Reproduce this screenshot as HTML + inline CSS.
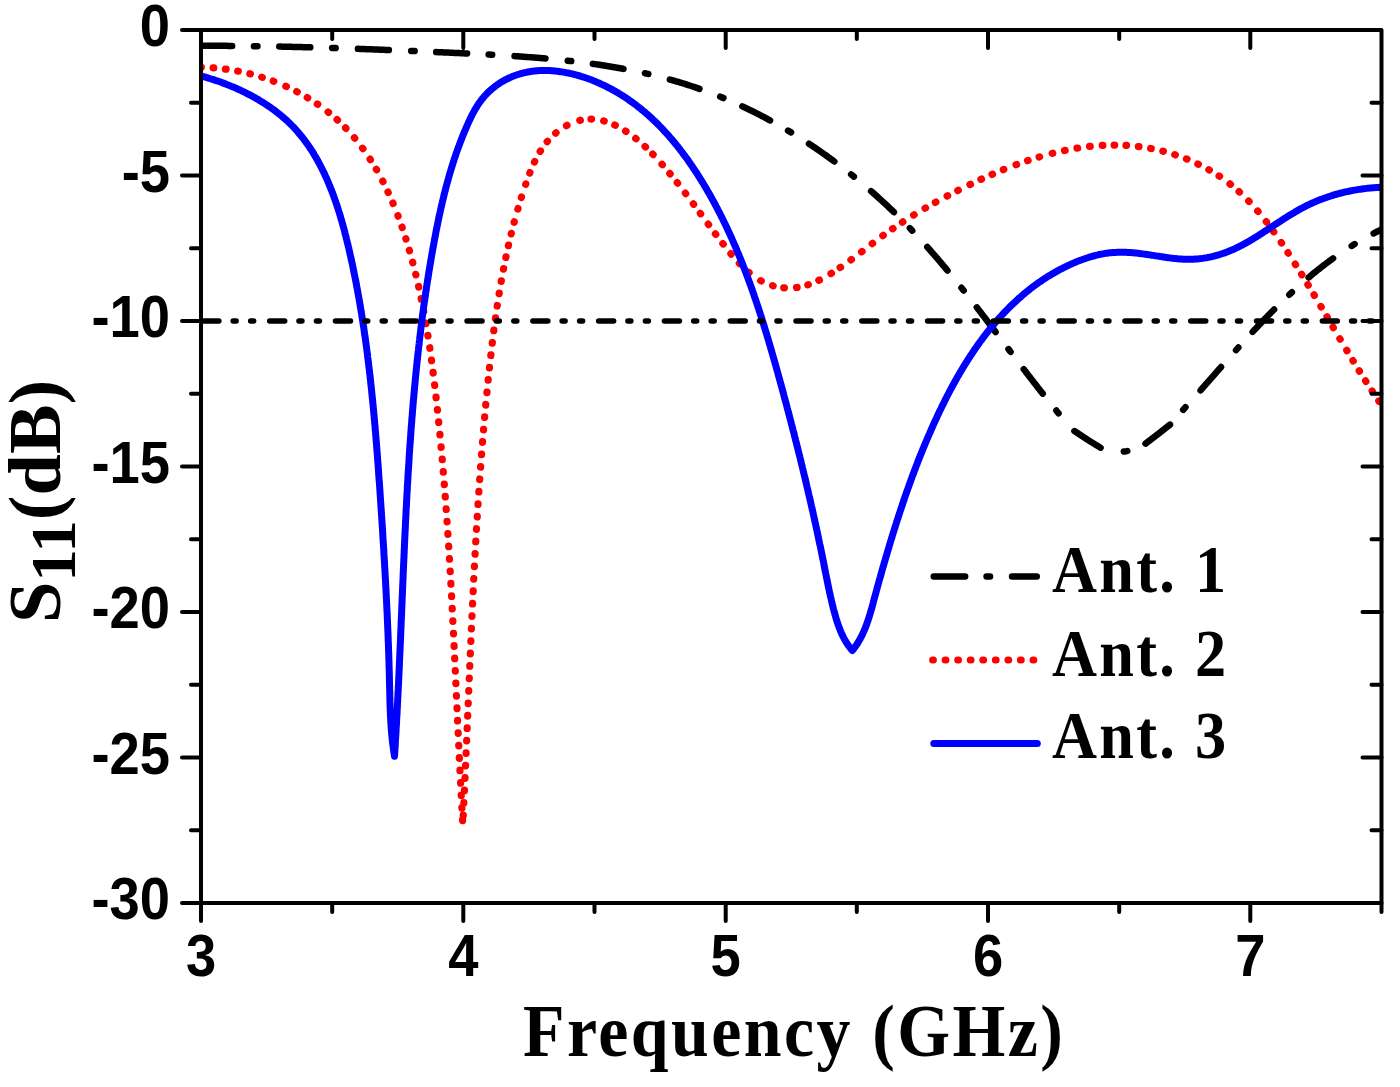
<!DOCTYPE html>
<html><head><meta charset="utf-8"><style>
html,body{margin:0;padding:0;background:#fff;overflow:hidden;}
svg{display:block;filter:blur(0.45px);}
</style></head><body>
<svg width="1400" height="1087" viewBox="0 0 1400 1087">
<g font-family="Liberation Sans, sans-serif" font-weight="bold" font-size="58.5"><text transform="translate(170,46.0) scale(0.93,1)" text-anchor="end">0</text><text transform="translate(170,191.5) scale(0.93,1)" text-anchor="end">-5</text><text transform="translate(170,337.0) scale(0.93,1)" text-anchor="end">-10</text><text transform="translate(170,482.5) scale(0.93,1)" text-anchor="end">-15</text><text transform="translate(170,628.0) scale(0.93,1)" text-anchor="end">-20</text><text transform="translate(170,773.5) scale(0.93,1)" text-anchor="end">-25</text><text transform="translate(170,919.0) scale(0.93,1)" text-anchor="end">-30</text><text transform="translate(201.0,975.5) scale(0.93,1)" text-anchor="middle">3</text><text transform="translate(463.3,975.5) scale(0.93,1)" text-anchor="middle">4</text><text transform="translate(725.7,975.5) scale(0.93,1)" text-anchor="middle">5</text><text transform="translate(988.0,975.5) scale(0.93,1)" text-anchor="middle">6</text><text transform="translate(1250.3,975.5) scale(0.93,1)" text-anchor="middle">7</text></g>
<text transform="translate(523,1055.5) scale(0.93,1)" textLength="580.6" lengthAdjust="spacing" font-family="Liberation Serif, serif" font-weight="bold" font-size="73">Frequency (GHz)</text>
<text transform="translate(60,623) rotate(-90) scale(1.018,1)" font-family="Liberation Serif, serif" font-weight="bold" font-size="73">S<tspan font-size="64" dy="15">11</tspan><tspan dy="-15">(dB)</tspan></text>
<defs><clipPath id="pc"><rect x="199.5" y="0" width="1183.5" height="1087"/></clipPath></defs><g clip-path="url(#pc)">
<path d="M253.95 46.16L255.31 46.18L256.82 46.20L257.45 46.21M332.12 47.97L333.13 48.00L334.62 48.05L335.62 48.08M411.13 50.95L412.38 51.00L413.88 51.06L414.63 51.10M488.69 54.58L489.29 54.61L490.81 54.69L492.18 54.77M567.72 60.71L567.93 60.73L569.44 60.90L570.94 61.07L571.20 61.10M644.91 73.24L645.11 73.28L646.56 73.62L648.02 73.95L648.32 74.02M720.18 96.71L720.45 96.82L721.83 97.38L723.21 97.95L723.42 98.04M788.04 130.60L788.51 130.87L789.79 131.64L791.04 132.40M851.14 174.43L851.34 174.59L852.52 175.53L853.69 176.48L853.86 176.62M909.84 228.12L910.22 228.52L911.26 229.61L912.26 230.65M961.47 287.79L961.48 287.80L962.42 288.98L963.36 290.17L963.65 290.53M1008.48 349.07L1009.19 350.02L1010.10 351.22L1010.59 351.87M1056.30 410.53L1057.05 411.45L1058.00 412.60L1058.55 413.22M1123.81 451.45L1125.50 451.50L1127.23 451.00M1183.19 409.84L1184.20 408.60L1185.20 407.49L1185.48 407.19M1236.03 350.14L1236.19 349.96L1237.20 348.83L1238.21 347.70L1238.36 347.53M1289.33 294.69L1289.63 294.41L1290.73 293.39L1291.83 292.36L1291.89 292.31M1351.67 245.90L1352.27 245.52L1353.55 244.73L1354.65 244.06M201.15 45.80L202.52 45.80L204.03 45.80L205.55 45.80L207.06 45.80L208.58 45.80L210.09 45.80L211.60 45.81L213.12 45.81L214.63 45.81L216.14 45.82L217.65 45.83L219.16 45.83L220.68 45.84L222.19 45.85L223.70 45.86L225.20 45.86L226.71 45.87L228.22 45.88L229.73 45.90L231.24 45.91L232.15 45.91M279.29 46.59L279.31 46.59L280.81 46.62L282.30 46.65L283.80 46.68L285.30 46.72L286.80 46.75L288.29 46.78L289.79 46.82L291.29 46.85L292.78 46.89L294.28 46.92L295.77 46.96L297.27 46.99L298.76 47.03L300.26 47.07L301.75 47.10L303.25 47.14L304.74 47.18L306.24 47.22L307.73 47.26L309.23 47.30L310.28 47.33M357.89 48.84L358.52 48.86L360.01 48.91L361.50 48.97L363.00 49.02L364.49 49.08L365.99 49.13L367.48 49.19L368.98 49.24L370.47 49.30L371.96 49.36L373.46 49.41L374.95 49.47L376.45 49.53L377.94 49.59L379.44 49.64L380.93 49.70L382.43 49.76L383.93 49.82L385.42 49.88L386.92 49.94L388.41 50.00L388.87 50.02M436.18 52.05L436.41 52.06L437.92 52.13L439.42 52.20L440.93 52.26L442.44 52.33L443.94 52.40L445.45 52.47L446.96 52.54L448.46 52.61L449.97 52.68L451.48 52.75L452.99 52.82L454.50 52.89L456.01 52.96L457.52 53.03L459.03 53.10L460.54 53.17L462.05 53.24L463.56 53.31L465.07 53.38L466.58 53.46L467.15 53.48M514.53 56.12L515.05 56.15L516.57 56.25L518.08 56.36L519.60 56.46L521.11 56.57L522.63 56.68L524.14 56.78L525.66 56.90L527.17 57.01L528.69 57.12L530.20 57.24L531.71 57.35L533.23 57.47L534.74 57.59L536.25 57.71L537.76 57.84L539.28 57.96L540.79 58.09L542.30 58.22L543.81 58.35L545.32 58.48L545.44 58.49M592.89 63.85L593.41 63.93L594.90 64.14L596.39 64.35L597.88 64.57L599.37 64.79L600.86 65.02L602.35 65.25L603.84 65.48L605.33 65.71L606.81 65.95L608.30 66.19L609.78 66.43L611.27 66.68L612.75 66.92L614.23 67.18L615.71 67.43L617.19 67.69L618.67 67.95L620.15 68.22L621.62 68.49L623.10 68.76L623.49 68.84M669.85 79.51L671.16 79.88L672.59 80.28L674.03 80.69L675.46 81.11L676.89 81.53L678.32 81.96L679.74 82.38L681.17 82.82L682.59 83.26L684.02 83.70L685.44 84.15L686.86 84.60L688.28 85.06L689.69 85.52L691.11 85.98L692.52 86.46L693.93 86.93L695.34 87.41L696.75 87.90L698.16 88.38L699.41 88.82M742.37 106.39L743.67 107.00L745.02 107.63L746.36 108.27L747.71 108.92L749.05 109.57L750.40 110.22L751.74 110.88L753.08 111.54L754.41 112.20L755.75 112.87L757.08 113.54L758.41 114.22L759.74 114.90L761.07 115.59L762.40 116.28L763.72 116.97L765.04 117.67L766.36 118.37L767.68 119.07L769.00 119.78L770.05 120.35M808.96 143.71L810.07 144.45L811.32 145.28L812.57 146.12L813.82 146.95L815.06 147.79L816.30 148.64L817.54 149.49L818.78 150.34L820.01 151.19L821.24 152.05L822.47 152.91L823.70 153.78L824.93 154.65L826.15 155.52L827.38 156.40L828.59 157.27L829.81 158.16L831.03 159.04L832.24 159.93L833.45 160.82L834.35 161.49M871.12 191.15L872.12 192.02L873.25 193.02L874.38 194.02L875.50 195.02L876.63 196.03L877.75 197.03L878.87 198.04L879.99 199.06L881.10 200.07L882.21 201.09L883.32 202.11L884.43 203.14L885.53 204.17L886.63 205.20L887.73 206.23L888.83 207.26L889.92 208.30L891.01 209.34L892.10 210.39L893.19 211.43L893.92 212.14M927.29 247.01L927.60 247.35L928.60 248.48L929.60 249.61L930.59 250.74L931.59 251.87L932.58 253.01L933.57 254.14L934.56 255.28L935.54 256.42L936.53 257.56L937.51 258.71L938.49 259.85L939.47 261.00L940.44 262.15L941.42 263.30L942.39 264.45L943.36 265.61L944.33 266.76L945.29 267.92L946.26 269.08L947.22 270.24L947.47 270.54M976.80 307.37L977.29 308.00L978.21 309.19L979.13 310.39L980.05 311.59L980.97 312.78L981.89 313.98L982.80 315.18L983.72 316.38L984.64 317.58L985.55 318.77L986.47 319.97L987.38 321.17L988.29 322.37L989.20 323.58L990.12 324.78L991.03 325.98L991.94 327.18L992.85 328.38L993.76 329.58L994.67 330.78L995.58 331.99L995.60 332.02M1023.71 369.14L1023.73 369.17L1024.65 370.37L1025.56 371.56L1026.47 372.75L1027.38 373.94L1028.30 375.13L1029.21 376.32L1030.13 377.50L1031.04 378.69L1031.96 379.88L1032.87 381.06L1033.79 382.25L1034.71 383.43L1035.63 384.61L1036.55 385.79L1037.47 386.97L1038.39 388.15L1039.32 389.33L1040.24 390.50L1041.16 391.68L1042.09 392.85L1042.71 393.63M1074.40 431.05L1088.00 440.00L1100.55 447.69M1145.51 443.59L1158.30 433.80L1170.00 424.58M1200.55 390.33L1201.19 389.61L1202.19 388.48L1203.18 387.35L1204.18 386.22L1205.18 385.09L1206.17 383.96L1207.17 382.83L1208.16 381.70L1209.16 380.57L1210.16 379.43L1211.15 378.30L1212.15 377.17L1213.15 376.03L1214.14 374.90L1215.14 373.76L1216.14 372.63L1217.13 371.49L1218.13 370.36L1219.13 369.22L1220.13 368.09L1221.03 367.06M1252.65 331.85L1253.52 330.91L1254.55 329.80L1255.59 328.70L1256.62 327.59L1257.66 326.49L1258.70 325.39L1259.73 324.29L1260.78 323.19L1261.82 322.09L1262.86 321.00L1263.91 319.91L1264.96 318.82L1266.01 317.73L1267.06 316.64L1268.11 315.56L1269.17 314.48L1270.22 313.40L1271.28 312.32L1272.34 311.25L1273.41 310.17L1274.11 309.47M1308.66 277.47L1308.71 277.42L1309.86 276.46L1311.01 275.49L1312.17 274.54L1313.33 273.58L1314.49 272.63L1315.65 271.69L1316.82 270.75L1317.99 269.81L1319.17 268.88L1320.35 267.95L1321.53 267.03L1322.71 266.11L1323.90 265.19L1325.09 264.28L1326.29 263.38L1327.49 262.48L1328.69 261.58L1329.90 260.69L1331.11 259.80L1332.32 258.92L1333.08 258.38M1373.65 233.39L1374.66 232.87L1376.02 232.18L1377.38 231.50L1378.75 230.83L1380.12 230.16L1381.50 229.50" stroke="#000" stroke-width="6.5" stroke-linecap="round" stroke-linejoin="round" fill="none"/>
<path d="M200.75 67.30l0.60 0.01M213.14 67.82l0.60 0.05M225.47 69.08l0.59 0.08M237.71 71.06l0.59 0.11M249.81 73.75l0.58 0.15M261.74 77.13l0.57 0.18M273.23 81.09l0.56 0.21M285.84 86.31l0.55 0.25M296.71 91.60l0.53 0.28M307.21 97.50l0.51 0.31M317.29 103.99l0.50 0.34M328.07 111.97l0.47 0.37M337.08 119.66l0.44 0.40M345.53 127.89l0.42 0.43M354.38 137.75l0.39 0.46M362.55 148.19l0.36 0.48M370.08 159.16l0.33 0.50M376.28 169.30l0.30 0.52M382.71 181.11l0.28 0.53M387.98 191.90l0.25 0.54M392.86 202.95l0.23 0.55M397.91 215.61l0.21 0.56M402.03 227.04l0.20 0.57M405.83 238.59l0.18 0.57M409.35 250.22l0.17 0.58M412.68 262.23l0.15 0.58M415.76 274.30l0.14 0.58M418.60 286.43l0.13 0.59M421.21 298.62l0.12 0.59M423.62 310.84l0.11 0.59M425.83 323.11l0.10 0.59M427.87 335.40l0.09 0.59M429.75 347.72l0.09 0.59M431.49 360.06l0.08 0.59M433.10 372.41l0.08 0.60M434.61 384.78l0.07 0.60M436.04 397.16l0.07 0.60M437.39 409.55l0.06 0.60M438.68 421.94l0.06 0.60M439.91 434.34l0.06 0.60M441.08 446.75l0.05 0.60M442.20 459.16l0.05 0.60M443.26 471.58l0.05 0.60M444.27 484.00l0.05 0.60M445.23 496.42l0.05 0.60M446.15 508.85l0.04 0.60M447.03 521.28l0.04 0.60M447.86 533.71l0.04 0.60M448.66 546.15l0.04 0.60M449.43 558.58l0.04 0.60M450.17 571.02l0.03 0.60M450.87 583.46l0.03 0.60M451.56 595.91l0.03 0.60M452.21 608.35l0.03 0.60M452.85 620.80l0.03 0.60M453.47 633.24l0.03 0.60M454.08 645.69l0.03 0.60M454.68 658.13l0.03 0.60M455.26 670.58l0.03 0.60M455.84 683.03l0.03 0.60M456.42 695.48l0.03 0.60M456.99 707.93l0.03 0.60M457.57 720.37l0.03 0.60M458.15 732.82l0.03 0.60M458.73 745.27l0.03 0.60M459.33 757.71l0.03 0.60M459.94 770.16l0.03 0.60M460.57 782.61l0.03 0.60M461.21 795.05l0.03 0.60M461.88 807.49l0.03 0.60M462.57 819.94l0.03 0.60M463.22 815.62l0.03 -0.60M463.83 803.17l0.03 -0.60M464.42 790.73l0.03 -0.60M464.99 778.28l0.03 -0.60M465.55 765.83l0.03 -0.60M466.10 753.38l0.03 -0.60M466.63 740.93l0.03 -0.60M467.16 728.48l0.03 -0.60M467.69 716.03l0.03 -0.60M468.21 703.58l0.03 -0.60M468.73 691.13l0.03 -0.60M469.25 678.68l0.03 -0.60M469.78 666.23l0.03 -0.60M470.31 653.78l0.03 -0.60M470.86 641.33l0.03 -0.60M471.41 628.88l0.03 -0.60M471.97 616.43l0.03 -0.60M472.55 603.99l0.03 -0.60M473.15 591.54l0.03 -0.60M473.77 579.09l0.03 -0.60M474.41 566.65l0.03 -0.60M475.07 554.21l0.03 -0.60M475.76 541.76l0.03 -0.60M476.48 529.32l0.04 -0.60M477.23 516.89l0.04 -0.60M478.01 504.45l0.04 -0.60M478.83 492.01l0.04 -0.60M479.68 479.58l0.04 -0.60M480.58 467.15l0.04 -0.60M481.51 454.73l0.05 -0.60M482.49 442.31l0.05 -0.60M483.52 429.89l0.05 -0.60M484.60 417.47l0.05 -0.60M485.73 405.06l0.06 -0.60M486.91 392.66l0.06 -0.60M488.15 380.26l0.06 -0.60M489.45 367.86l0.06 -0.60M490.81 355.48l0.07 -0.60M492.25 343.10l0.07 -0.60M493.78 330.73l0.08 -0.60M495.43 318.38l0.08 -0.59M497.20 306.05l0.09 -0.59M499.12 293.74l0.10 -0.59M501.21 281.45l0.10 -0.59M503.47 269.20l0.11 -0.59M505.83 257.42l0.12 -0.59M508.39 245.67l0.13 -0.59M511.16 233.94l0.14 -0.58M514.15 222.24l0.15 -0.58M517.82 209.12l0.17 -0.58M521.34 197.48l0.18 -0.57M525.64 184.42l0.19 -0.57M529.75 173.11l0.22 -0.56M534.46 162.04l0.26 -0.54M540.14 151.44l0.31 -0.51M547.13 141.66l0.38 -0.46M555.60 133.13l0.46 -0.39M566.47 125.64l0.52 -0.29M579.79 120.39l0.58 -0.15M590.95 119.04l0.60 -0.00M603.64 120.87l0.58 0.15M614.76 125.06l0.54 0.25M625.50 131.09l0.51 0.32M635.62 138.40l0.47 0.37M645.05 146.57l0.44 0.41M652.73 154.15l0.42 0.43M661.99 164.28l0.40 0.45M669.78 173.42l0.38 0.46M677.24 182.66l0.37 0.47M685.35 193.17l0.36 0.48M693.29 203.78l0.36 0.48M700.29 213.30l0.35 0.48M708.23 224.12l0.36 0.48M715.42 233.81l0.36 0.48M722.85 243.58l0.37 0.48M730.85 253.67l0.38 0.46M739.33 263.35l0.41 0.44M748.64 272.23l0.46 0.39M760.68 280.66l0.52 0.29M772.57 285.65l0.57 0.18M783.73 287.81l0.60 0.06M796.51 287.53l0.59 -0.08M807.78 284.85l0.57 -0.19M818.84 280.30l0.54 -0.26M830.96 273.56l0.51 -0.31M840.09 267.59l0.50 -0.34M850.94 259.84l0.48 -0.36M861.57 251.81l0.48 -0.36M872.15 243.70l0.48 -0.36M882.81 235.71l0.48 -0.35M892.53 228.81l0.49 -0.34M902.38 222.20l0.50 -0.33M913.62 215.08l0.51 -0.31M925.04 208.25l0.52 -0.30M935.35 202.40l0.52 -0.29M947.13 196.03l0.53 -0.28M957.77 190.54l0.54 -0.27M969.93 184.52l0.54 -0.26M980.90 179.35l0.55 -0.25M992.01 174.39l0.55 -0.24M1003.25 169.67l0.56 -0.23M1016.03 164.72l0.56 -0.21M1027.50 160.68l0.57 -0.19M1039.06 157.01l0.57 -0.17M1052.16 153.37l0.58 -0.15M1064.53 150.50l0.59 -0.12M1077.01 148.17l0.59 -0.10M1089.59 146.45l0.60 -0.06M1102.24 145.40l0.60 -0.03M1114.10 145.07l0.60 -0.00M1125.96 145.41l0.60 0.03M1138.36 146.52l0.60 0.07M1150.65 148.45l0.59 0.11M1162.80 151.16l0.58 0.15M1174.74 154.66l0.57 0.19M1186.44 158.92l0.56 0.22M1197.82 163.94l0.54 0.26M1208.84 169.73l0.52 0.30M1219.06 176.03l0.50 0.33M1229.96 183.93l0.47 0.37M1239.06 191.65l0.44 0.40M1248.68 201.05l0.42 0.43M1257.70 211.07l0.39 0.46M1266.23 221.62l0.37 0.47M1273.44 231.33l0.35 0.49M1281.23 242.53l0.34 0.50M1287.92 252.64l0.33 0.50M1295.24 264.09l0.32 0.51M1301.61 274.32l0.31 0.51M1307.87 284.59l0.31 0.51M1314.04 294.88l0.31 0.52M1320.91 306.48l0.30 0.52M1326.98 316.80l0.30 0.52M1333.03 327.12l0.30 0.52M1339.86 338.72l0.31 0.52M1346.74 350.28l0.31 0.51M1352.92 360.53l0.31 0.51M1359.19 370.74l0.32 0.51M1365.58 380.89l0.32 0.51M1372.10 390.99l0.33 0.50M1378.78 401.02l0.34 0.50" stroke="#f00" stroke-width="7.2" stroke-linecap="round" fill="none"/>
<path d="M201.2 76.0L202.6 76.4 204.1 76.8 205.5 77.2 206.9 77.6 208.4 78.1 209.8 78.5 211.2 79.0 212.6 79.4 214.1 79.9 215.5 80.4 216.9 80.8 218.3 81.3 219.8 81.8 221.2 82.3 222.6 82.9 224.0 83.4 225.4 83.9 226.8 84.5 228.3 85.0 229.7 85.6 231.1 86.2 232.5 86.7 233.9 87.3 235.3 87.9 236.6 88.5 238.0 89.2 239.4 89.8 240.8 90.4 242.2 91.1 243.5 91.7 244.9 92.4 246.3 93.1 247.6 93.8 249.0 94.5 250.3 95.2 251.6 95.9 253.0 96.6 254.3 97.3 255.6 98.1 256.9 98.8 258.2 99.6 259.5 100.4 260.8 101.2 262.1 102.0 263.4 102.8 264.7 103.6 265.9 104.4 267.2 105.2 268.4 106.1 269.7 106.9 270.9 107.8 272.1 108.7 273.4 109.5 274.6 110.4 275.8 111.3 276.9 112.3 278.1 113.2 279.3 114.1 280.5 115.1 281.6 116.0 282.7 117.0 283.9 118.0 285.0 118.9 286.1 119.9 287.2 120.9 288.3 122.0 289.4 123.0 290.4 124.0 291.5 125.1 292.5 126.1 293.6 127.2 294.6 128.3 295.6 129.4 296.6 130.5 297.6 131.6 298.5 132.7 299.5 133.9 300.4 135.0 301.4 136.2 302.3 137.3 303.2 138.5 304.1 139.7 305.0 140.9 305.9 142.1 306.8 143.3 307.6 144.5 308.5 145.7 309.3 146.9 310.1 148.2 311.0 149.4 311.8 150.7 312.6 151.9 313.4 153.2 314.1 154.5 314.9 155.8 315.7 157.1 316.4 158.4 317.2 159.7 317.9 161.0 318.6 162.3 319.3 163.6 320.0 164.9 320.7 166.3 321.4 167.6 322.1 169.0 322.7 170.3 323.4 171.7 324.1 173.0 324.7 174.4 325.3 175.8 326.0 177.1 326.6 178.5 327.2 179.9 327.8 181.3 328.4 182.7 329.0 184.1 329.5 185.5 330.1 186.9 330.7 188.3 331.2 189.7 331.8 191.1 332.3 192.5 332.9 193.9 333.4 195.3 333.9 196.7 334.4 198.2 334.9 199.6 335.4 201.0 335.9 202.4 336.4 203.9 336.9 205.3 337.3 206.7 337.8 208.2 338.3 209.6 338.7 211.0 339.2 212.5 339.6 213.9 340.1 215.4 340.5 216.8 340.9 218.3 341.3 219.7 341.8 221.2 342.2 222.6 342.6 224.1 343.0 225.5 343.4 227.0 343.8 228.4 344.2 229.9 344.6 231.3 344.9 232.8 345.3 234.3 345.7 235.7 346.1 237.2 346.4 238.7 346.8 240.1 347.1 241.6 347.5 243.0 347.9 244.5 348.2 246.0 348.6 247.4 348.9 248.9 349.2 250.4 349.6 251.9 349.9 253.3 350.2 254.8 350.6 256.3 350.9 257.7 351.2 259.2 351.5 260.7 351.9 262.2 352.2 263.6 352.5 265.1 352.8 266.6 353.1 268.0 353.4 269.5 353.7 271.0 354.0 272.5 354.3 273.9 354.6 275.4 354.9 276.9 355.2 278.4 355.5 279.8 355.8 281.3 356.1 282.8 356.4 284.3 356.6 285.8 356.9 287.2 357.2 288.7 357.5 290.2 357.7 291.7 358.0 293.2 358.3 294.6 358.5 296.1 358.8 297.6 359.1 299.1 359.3 300.6 359.6 302.0 359.8 303.5 360.1 305.0 360.3 306.5 360.6 308.0 360.8 309.5 361.1 310.9 361.3 312.4 361.6 313.9 361.8 315.4 362.0 316.9 362.3 318.4 362.5 319.8 362.7 321.3 363.0 322.8 363.2 324.3 363.4 325.8 363.7 327.3 363.9 328.8 364.1 330.2 364.3 331.7 364.5 333.2 364.7 334.7 365.0 336.2 365.2 337.7 365.4 339.2 365.6 340.7 365.8 342.2 366.0 343.6 366.2 345.1 366.4 346.6 366.6 348.1 366.8 349.6 367.0 351.1 367.2 352.6 367.4 354.1 367.6 355.6 367.7 357.1 367.9 358.6 368.1 360.0 368.3 361.5 368.5 363.0 368.7 364.5 368.8 366.0 369.0 367.5 369.2 369.0 369.4 370.5 369.5 372.0 369.7 373.5 369.9 375.0 370.1 376.5 370.2 378.0 370.4 379.5 370.6 381.0 370.7 382.5 370.9 383.9 371.0 385.4 371.2 386.9 371.4 388.4 371.5 389.9 371.7 391.4 371.8 392.9 372.0 394.4 372.1 395.9 372.3 397.4 372.4 398.9 372.6 400.4 372.7 401.9 372.9 403.4 373.0 404.9 373.2 406.4 373.3 407.9 373.5 409.4 373.6 410.9 373.7 412.4 373.9 413.9 374.0 415.4 374.2 416.9 374.3 418.4 374.4 419.9 374.6 421.4 374.7 422.9 374.8 424.4 375.0 425.9 375.1 427.4 375.2 428.9 375.3 430.4 375.5 431.9 375.6 433.4 375.7 434.9 375.8 436.4 376.0 437.9 376.1 439.4 376.2 440.9 376.3 442.4 376.5 443.9 376.6 445.4 376.7 446.9 376.8 448.4 376.9 449.9 377.0 451.4 377.2 452.9 377.3 454.4 377.4 455.9 377.5 457.4 377.6 458.9 377.7 460.4 377.8 461.9 378.0 463.4 378.1 464.9 378.2 466.4 378.3 467.9 378.4 469.4 378.5 470.9 378.6 472.4 378.7 473.9 378.8 475.4 378.9 476.9 379.0 478.4 379.1 479.9 379.2 481.4 379.4 482.9 379.5 484.4 379.6 485.9 379.7 487.4 379.8 488.9 379.9 490.4 380.0 491.9 380.1 493.4 380.2 494.9 380.3 496.4 380.4 497.9 380.5 499.4 380.6 500.9 380.7 502.4 380.8 503.9 380.9 505.4 381.0 506.9 381.1 508.4 381.2 510.0 381.3 511.5 381.4 513.0 381.5 514.5 381.6 516.0 381.7 517.5 381.8 519.0 381.9 520.5 382.0 522.0 382.1 523.5 382.2 525.0 382.3 526.5 382.4 528.0 382.5 529.5 382.6 531.0 382.7 532.5 382.7 534.0 382.8 535.5 382.9 537.0 383.0 538.5 383.1 540.0 383.2 541.5 383.3 543.0 383.4 544.5 383.5 546.0 383.6 547.5 383.7 549.0 383.8 550.5 383.9 552.0 383.9 553.5 384.0 555.0 384.1 556.5 384.2 558.0 384.3 559.5 384.4 561.0 384.5 562.5 384.6 564.0 384.6 565.5 384.7 567.0 384.8 568.5 384.9 570.0 385.0 571.5 385.1 573.0 385.1 574.5 385.2 576.0 385.3 577.5 385.4 579.0 385.5 580.5 385.6 582.1 385.6 583.6 385.7 585.1 385.8 586.6 385.9 588.1 386.0 589.6 386.0 591.1 386.1 592.6 386.2 594.1 386.3 595.6 386.3 597.1 386.4 598.6 386.5 600.1 386.6 601.6 386.6 603.1 386.7 604.6 386.8 606.1 386.8 607.6 386.9 609.1 387.0 610.6 387.1 612.1 387.1 613.6 387.2 615.1 387.3 616.6 387.3 618.1 387.4 619.6 387.5 621.1 387.5 622.6 387.6 624.1 387.6 625.6 387.7 627.1 387.8 628.6 387.8 630.1 387.9 631.6 388.0 633.2 388.0 634.7 388.1 636.2 388.1 637.7 388.2 639.2 388.2 640.7 388.3 642.2 388.4 643.7 388.4 645.2 388.5 646.7 388.5 648.2 388.6 649.7 388.6 651.2 388.7 652.7 388.7 654.2 388.8 655.7 388.8 657.2 388.9 658.7 388.9 660.2 389.0 661.7 389.0 663.2 389.0 664.7 389.1 666.2 389.1 667.7 389.2 669.3 389.2 670.8 389.3 672.3 389.3 673.8 389.3 675.3 389.4 676.8 389.4 678.3 389.4 679.8 389.5 681.3 389.5 682.8 389.5 684.3 389.6 685.8 389.6 687.3 389.6 688.8 389.7 690.3 389.7 691.8 389.8 693.3 389.8 694.8 389.8 696.3 389.9 697.8 389.9 699.4 389.9 700.9 390.0 702.4 390.0 703.9 390.1 705.4 390.1 706.9 390.2 708.4 390.2 709.9 390.3 711.4 390.4 712.9 390.4 714.4 390.5 715.9 390.6 717.4 390.7 718.9 390.7 720.4 390.8 721.9 390.9 723.4 391.0 724.9 391.1 726.4 391.2 727.9 391.3 729.4 391.4 730.9 391.6 732.4 391.7 733.9 391.8 735.4 392.0 736.9 392.1 738.3 392.3 739.8 392.4 741.3 392.6 742.8 392.8 744.3 393.0 745.8 393.2 747.3 393.4 748.8 393.6 750.3 393.8 751.7 394.0 753.2 394.3 754.7 394.5 756.2 394.6 754.7 394.7 753.2 394.8 751.7 394.9 750.2 395.0 748.7 395.1 747.2 395.2 745.7 395.3 744.2 395.3 742.7 395.4 741.2 395.5 739.7 395.6 738.2 395.7 736.7 395.8 735.2 395.9 733.7 396.0 732.2 396.1 730.8 396.1 729.3 396.2 727.8 396.3 726.3 396.4 724.8 396.5 723.3 396.6 721.8 396.6 720.3 396.7 718.8 396.8 717.3 396.9 715.8 397.0 714.3 397.1 712.8 397.1 711.3 397.2 709.8 397.3 708.3 397.4 706.8 397.4 705.3 397.5 703.8 397.6 702.3 397.7 700.8 397.7 699.3 397.8 697.8 397.9 696.3 398.0 694.8 398.0 693.3 398.1 691.8 398.2 690.3 398.3 688.8 398.3 687.3 398.4 685.8 398.5 684.3 398.6 682.8 398.6 681.3 398.7 679.8 398.8 678.3 398.8 676.8 398.9 675.3 399.0 673.8 399.0 672.3 399.1 670.8 399.2 669.3 399.2 667.8 399.3 666.3 399.4 664.8 399.4 663.3 399.5 661.8 399.6 660.3 399.6 658.8 399.7 657.3 399.8 655.8 399.8 654.3 399.9 652.8 400.0 651.3 400.0 649.8 400.1 648.3 400.2 646.8 400.2 645.3 400.3 643.8 400.4 642.3 400.4 640.8 400.5 639.3 400.6 637.8 400.6 636.3 400.7 634.8 400.7 633.3 400.8 631.8 400.9 630.3 400.9 628.8 401.0 627.3 401.1 625.8 401.1 624.3 401.2 622.8 401.2 621.3 401.3 619.8 401.4 618.3 401.4 616.8 401.5 615.3 401.6 613.8 401.6 612.3 401.7 610.8 401.7 609.3 401.8 607.8 401.9 606.3 401.9 604.8 402.0 603.3 402.1 601.7 402.1 600.2 402.2 598.7 402.2 597.2 402.3 595.7 402.4 594.2 402.4 592.7 402.5 591.2 402.5 589.7 402.6 588.2 402.7 586.7 402.7 585.2 402.8 583.7 402.9 582.2 402.9 580.7 403.0 579.2 403.1 577.7 403.1 576.2 403.2 574.7 403.2 573.2 403.3 571.7 403.4 570.2 403.4 568.7 403.5 567.2 403.6 565.7 403.6 564.2 403.7 562.7 403.8 561.2 403.8 559.7 403.9 558.2 404.0 556.7 404.0 555.2 404.1 553.7 404.2 552.2 404.2 550.7 404.3 549.2 404.4 547.7 404.4 546.2 404.5 544.7 404.6 543.2 404.6 541.7 404.7 540.2 404.8 538.7 404.8 537.2 404.9 535.7 405.0 534.2 405.0 532.7 405.1 531.2 405.2 529.7 405.3 528.2 405.3 526.7 405.4 525.2 405.5 523.7 405.5 522.2 405.6 520.7 405.7 519.2 405.8 517.7 405.8 516.2 405.9 514.7 406.0 513.2 406.1 511.7 406.1 510.2 406.2 508.7 406.3 507.2 406.4 505.7 406.5 504.2 406.5 502.7 406.6 501.2 406.7 499.7 406.8 498.2 406.8 496.7 406.9 495.2 407.0 493.7 407.1 492.2 407.2 490.7 407.3 489.2 407.3 487.7 407.4 486.2 407.5 484.7 407.6 483.2 407.7 481.7 407.8 480.2 407.9 478.7 407.9 477.2 408.0 475.7 408.1 474.2 408.2 472.7 408.3 471.2 408.4 469.7 408.5 468.2 408.6 466.7 408.7 465.2 408.8 463.7 408.9 462.2 409.0 460.7 409.1 459.2 409.1 457.7 409.2 456.2 409.3 454.7 409.4 453.2 409.5 451.7 409.6 450.2 409.7 448.7 409.8 447.2 409.9 445.7 410.0 444.2 410.2 442.7 410.3 441.2 410.4 439.7 410.5 438.2 410.6 436.7 410.7 435.2 410.8 433.7 410.9 432.2 411.0 430.7 411.1 429.3 411.2 427.8 411.3 426.3 411.5 424.8 411.6 423.3 411.7 421.8 411.8 420.3 411.9 418.8 412.0 417.3 412.2 415.8 412.3 414.3 412.4 412.8 412.5 411.3 412.6 409.8 412.8 408.3 412.9 406.8 413.0 405.3 413.1 403.8 413.3 402.3 413.4 400.8 413.5 399.3 413.7 397.8 413.8 396.3 413.9 394.8 414.1 393.4 414.2 391.9 414.3 390.4 414.5 388.9 414.6 387.4 414.7 385.9 414.9 384.4 415.0 382.9 415.2 381.4 415.3 379.9 415.4 378.4 415.6 376.9 415.7 375.4 415.9 373.9 416.0 372.4 416.2 370.9 416.3 369.5 416.5 368.0 416.6 366.5 416.8 365.0 416.9 363.5 417.1 362.0 417.2 360.5 417.4 359.0 417.6 357.5 417.7 356.0 417.9 354.5 418.1 353.0 418.2 351.6 418.4 350.1 418.5 348.6 418.7 347.1 418.9 345.6 419.1 344.1 419.2 342.6 419.4 341.1 419.6 339.6 419.7 338.1 419.9 336.6 420.1 335.2 420.3 333.7 420.5 332.2 420.6 330.7 420.8 329.2 421.0 327.7 421.2 326.2 421.4 324.7 421.6 323.2 421.8 321.8 421.9 320.3 422.1 318.8 422.3 317.3 422.5 315.8 422.7 314.3 422.9 312.8 423.1 311.3 423.3 309.9 423.5 308.4 423.7 306.9 423.9 305.4 424.1 303.9 424.3 302.4 424.6 300.9 424.8 299.4 425.0 298.0 425.2 296.5 425.4 295.0 425.6 293.5 425.8 292.0 426.1 290.5 426.3 289.0 426.5 287.6 426.7 286.1 426.9 284.6 427.2 283.1 427.4 281.6 427.6 280.1 427.9 278.7 428.1 277.2 428.3 275.7 428.6 274.2 428.8 272.7 429.0 271.2 429.3 269.8 429.5 268.3 429.8 266.8 430.0 265.3 430.3 263.8 430.5 262.3 430.8 260.9 431.0 259.4 431.3 257.9 431.5 256.4 431.8 254.9 432.0 253.5 432.3 252.0 432.6 250.5 432.8 249.0 433.1 247.5 433.4 246.0 433.6 244.6 433.9 243.1 434.2 241.6 434.4 240.1 434.7 238.7 435.0 237.2 435.3 235.7 435.6 234.2 435.8 232.7 436.1 231.3 436.4 229.8 436.7 228.3 437.0 226.8 437.3 225.4 437.6 223.9 437.9 222.4 438.2 220.9 438.5 219.5 438.8 218.0 439.1 216.5 439.4 215.0 439.8 213.6 440.1 212.1 440.4 210.6 440.7 209.2 441.1 207.7 441.4 206.2 441.7 204.8 442.1 203.3 442.4 201.8 442.8 200.4 443.1 198.9 443.5 197.5 443.8 196.0 444.2 194.5 444.5 193.1 444.9 191.6 445.3 190.2 445.7 188.7 446.0 187.3 446.4 185.8 446.8 184.4 447.2 182.9 447.6 181.5 448.0 180.0 448.4 178.6 448.8 177.1 449.2 175.7 449.6 174.3 450.0 172.8 450.5 171.4 450.9 169.9 451.3 168.5 451.8 167.1 452.2 165.6 452.7 164.2 453.1 162.8 453.6 161.4 454.0 159.9 454.5 158.5 455.0 157.1 455.5 155.7 455.9 154.3 456.4 152.8 456.9 151.4 457.4 150.0 457.9 148.6 458.4 147.2 459.0 145.8 459.5 144.4 460.0 143.0 460.5 141.6 461.1 140.2 461.6 138.8 462.2 137.4 462.7 136.0 463.3 134.6 463.9 133.2 464.4 131.8 465.0 130.5 465.6 129.1 466.2 127.7 466.8 126.3 467.4 124.9 468.0 123.6 468.6 122.2 469.2 120.8 469.9 119.5 470.5 118.1 471.2 116.8 471.9 115.4 472.5 114.1 473.2 112.8 474.0 111.5 474.7 110.1 475.4 108.9 476.2 107.6 477.0 106.3 477.8 105.0 478.6 103.8 479.5 102.5 480.4 101.3 481.3 100.1 482.2 98.9 483.2 97.8 484.1 96.6 485.1 95.5 486.2 94.4 487.2 93.3 488.3 92.2 489.4 91.2 490.6 90.1 491.7 89.1 492.9 88.1 494.1 87.2 495.3 86.2 496.6 85.3 497.8 84.4 499.1 83.6 500.4 82.7 501.6 81.9 502.9 81.2 504.3 80.4 505.6 79.7 506.9 79.0 508.3 78.3 509.6 77.7 511.0 77.1 512.3 76.5 513.7 76.0 515.1 75.5 516.5 75.0 517.9 74.5 519.3 74.1 520.7 73.7 522.1 73.3 523.5 72.9 525.0 72.6 526.4 72.3 527.8 72.0 529.3 71.8 530.7 71.5 532.2 71.3 533.6 71.1 535.1 71.0 536.6 70.8 538.0 70.7 539.5 70.6 541.0 70.6 542.5 70.5 543.9 70.5 545.4 70.5 546.9 70.5 548.4 70.6 549.9 70.6 551.4 70.7 552.9 70.8 554.4 71.0 555.9 71.1 557.4 71.3 558.9 71.5 560.3 71.7 561.8 71.9 563.3 72.1 564.8 72.4 566.3 72.7 567.8 72.9 569.3 73.3 570.8 73.6 572.3 73.9 573.7 74.3 575.2 74.7 576.7 75.1 578.2 75.5 579.6 75.9 581.1 76.4 582.5 76.8 584.0 77.3 585.4 77.8 586.9 78.3 588.3 78.8 589.8 79.3 591.2 79.8 592.6 80.4 594.0 81.0 595.4 81.5 596.8 82.1 598.2 82.7 599.6 83.3 601.0 84.0 602.4 84.6 603.8 85.3 605.1 85.9 606.5 86.6 607.8 87.3 609.1 88.0 610.5 88.7 611.8 89.4 613.1 90.1 614.4 90.8 615.7 91.6 617.0 92.3 618.3 93.1 619.6 93.8 620.8 94.6 622.1 95.4 623.4 96.2 624.6 97.0 625.9 97.8 627.1 98.7 628.3 99.5 629.5 100.4 630.8 101.2 632.0 102.1 633.2 103.0 634.4 103.9 635.6 104.7 636.7 105.6 637.9 106.6 639.1 107.5 640.2 108.4 641.4 109.3 642.5 110.3 643.7 111.2 644.8 112.2 645.9 113.2 647.1 114.1 648.2 115.1 649.3 116.1 650.4 117.1 651.5 118.1 652.6 119.1 653.7 120.2 654.7 121.2 655.8 122.2 656.9 123.3 657.9 124.3 659.0 125.4 660.0 126.5 661.1 127.5 662.1 128.6 663.1 129.7 664.1 130.8 665.1 131.9 666.2 133.0 667.2 134.1 668.2 135.2 669.1 136.3 670.1 137.5 671.1 138.6 672.1 139.7 673.1 140.9 674.0 142.0 675.0 143.2 675.9 144.4 676.9 145.5 677.8 146.7 678.7 147.9 679.7 149.1 680.6 150.3 681.5 151.5 682.4 152.7 683.3 153.9 684.2 155.1 685.1 156.3 686.0 157.5 686.9 158.7 687.8 159.9 688.6 161.2 689.5 162.4 690.4 163.7 691.2 164.9 692.1 166.1 692.9 167.4 693.8 168.7 694.6 169.9 695.4 171.2 696.3 172.4 697.1 173.7 697.9 175.0 698.7 176.3 699.5 177.5 700.3 178.8 701.1 180.1 701.9 181.4 702.7 182.7 703.5 184.0 704.3 185.3 705.1 186.6 705.8 187.9 706.6 189.2 707.3 190.5 708.1 191.8 708.9 193.1 709.6 194.4 710.3 195.7 711.1 197.0 711.8 198.4 712.5 199.7 713.3 201.0 714.0 202.3 714.7 203.6 715.4 205.0 716.1 206.3 716.8 207.6 717.5 209.0 718.2 210.3 718.9 211.6 719.6 213.0 720.3 214.3 720.9 215.6 721.6 217.0 722.3 218.3 723.0 219.7 723.6 221.0 724.3 222.4 724.9 223.7 725.6 225.1 726.2 226.4 726.9 227.8 727.5 229.1 728.1 230.5 728.8 231.9 729.4 233.2 730.0 234.6 730.6 235.9 731.3 237.3 731.9 238.7 732.5 240.1 733.1 241.4 733.7 242.8 734.3 244.2 734.9 245.5 735.5 246.9 736.1 248.3 736.6 249.7 737.2 251.1 737.8 252.4 738.4 253.8 738.9 255.2 739.5 256.6 740.1 258.0 740.6 259.4 741.2 260.8 741.8 262.1 742.3 263.5 742.9 264.9 743.4 266.3 744.0 267.7 744.5 269.1 745.0 270.5 745.6 271.9 746.1 273.3 746.6 274.7 747.2 276.1 747.7 277.5 748.2 278.9 748.7 280.3 749.2 281.7 749.7 283.1 750.3 284.6 750.8 286.0 751.3 287.4 751.8 288.8 752.3 290.2 752.8 291.6 753.3 293.0 753.8 294.4 754.2 295.9 754.7 297.3 755.2 298.7 755.7 300.1 756.2 301.5 756.7 303.0 757.1 304.4 757.6 305.8 758.1 307.2 758.6 308.6 759.0 310.1 759.5 311.5 760.0 312.9 760.4 314.4 760.9 315.8 761.3 317.2 761.8 318.6 762.2 320.1 762.7 321.5 763.1 322.9 763.6 324.4 764.0 325.8 764.5 327.2 764.9 328.7 765.4 330.1 765.8 331.5 766.2 333.0 766.7 334.4 767.1 335.9 767.5 337.3 768.0 338.7 768.4 340.2 768.8 341.6 769.2 343.1 769.7 344.5 770.1 345.9 770.5 347.4 770.9 348.8 771.4 350.3 771.8 351.7 772.2 353.1 772.6 354.6 773.0 356.0 773.4 357.5 773.8 358.9 774.3 360.4 774.7 361.8 775.1 363.3 775.5 364.7 775.9 366.2 776.3 367.6 776.7 369.0 777.1 370.5 777.5 371.9 777.9 373.4 778.3 374.8 778.7 376.3 779.1 377.7 779.5 379.2 779.9 380.6 780.3 382.1 780.7 383.5 781.1 385.0 781.5 386.4 781.9 387.9 782.3 389.3 782.7 390.8 783.1 392.2 783.5 393.7 783.8 395.1 784.2 396.6 784.6 398.0 785.0 399.5 785.4 400.9 785.8 402.4 786.2 403.8 786.6 405.3 787.0 406.7 787.3 408.2 787.7 409.6 788.1 411.1 788.5 412.5 788.9 414.0 789.3 415.5 789.6 416.9 790.0 418.4 790.4 419.8 790.8 421.3 791.2 422.7 791.5 424.2 791.9 425.6 792.3 427.1 792.7 428.5 793.0 430.0 793.4 431.4 793.8 432.9 794.2 434.3 794.5 435.8 794.9 437.3 795.3 438.7 795.6 440.2 796.0 441.6 796.4 443.1 796.7 444.5 797.1 446.0 797.5 447.4 797.8 448.9 798.2 450.3 798.6 451.8 798.9 453.3 799.3 454.7 799.7 456.2 800.0 457.6 800.4 459.1 800.7 460.5 801.1 462.0 801.4 463.5 801.8 464.9 802.2 466.4 802.5 467.8 802.9 469.3 803.2 470.8 803.6 472.2 803.9 473.7 804.3 475.1 804.6 476.6 805.0 478.0 805.3 479.5 805.7 481.0 806.0 482.4 806.4 483.9 806.7 485.4 807.0 486.8 807.4 488.3 807.7 489.7 808.1 491.2 808.4 492.7 808.7 494.1 809.1 495.6 809.4 497.0 809.8 498.5 810.1 500.0 810.4 501.4 810.8 502.9 811.1 504.4 811.4 505.8 811.8 507.3 812.1 508.7 812.4 510.2 812.8 511.7 813.1 513.1 813.4 514.6 813.7 516.1 814.1 517.5 814.4 519.0 814.7 520.5 815.0 521.9 815.3 523.4 815.7 524.9 816.0 526.3 816.3 527.8 816.6 529.3 816.9 530.7 817.3 532.2 817.6 533.7 817.9 535.1 818.2 536.6 818.5 538.1 818.8 539.6 819.1 541.0 819.4 542.5 819.7 544.0 820.1 545.4 820.4 546.9 820.7 548.4 821.0 549.8 821.3 551.3 821.6 552.8 821.9 554.3 822.2 555.7 822.5 557.2 822.8 558.7 823.1 560.1 823.4 561.6 823.7 563.1 824.0 564.6 824.2 566.0 824.5 567.5 824.8 569.0 825.1 570.5 825.4 571.9 825.7 573.4 826.0 574.9 826.3 576.4 826.6 577.8 826.9 579.3 827.2 580.8 827.5 582.3 827.8 583.7 828.1 585.2 828.4 586.7 828.7 588.1 829.0 589.6 829.3 591.1 829.6 592.6 830.0 594.0 830.3 595.5 830.6 597.0 831.0 598.4 831.3 599.9 831.6 601.4 832.0 602.8 832.3 604.3 832.7 605.7 833.1 607.2 833.4 608.7 833.8 610.1 834.2 611.6 834.6 613.0 835.0 614.5 835.4 615.9 835.8 617.4 836.2 618.8 836.7 620.3 837.1 621.7 837.6 623.1 838.1 624.5 838.6 625.9 839.1 627.3 839.6 628.7 840.2 630.1 840.7 631.5 841.3 632.8 841.9 634.2 842.6 635.5 843.2 636.9 843.9 638.2 844.6 639.5 845.4 640.8 846.1 642.0 846.9 643.3 847.7 644.5 848.6 645.8 849.5 647.0 850.4 648.2 851.3 649.3 852.3 650.5 853.3 649.3 854.2 648.1 855.1 646.9 855.9 645.7 856.8 644.5 857.6 643.3 858.3 642.0 859.1 640.7 859.8 639.5 860.5 638.2 861.2 636.9 861.9 635.6 862.5 634.2 863.1 632.9 863.7 631.6 864.3 630.2 864.9 628.9 865.4 627.5 866.0 626.1 866.5 624.7 867.0 623.3 867.5 621.9 868.0 620.5 868.4 619.1 868.9 617.7 869.3 616.3 869.8 614.9 870.2 613.4 870.6 612.0 871.0 610.6 871.5 609.1 871.9 607.7 872.3 606.2 872.7 604.8 873.1 603.3 873.4 601.8 873.8 600.4 874.2 598.9 874.6 597.5 875.0 596.0 875.4 594.5 875.8 593.1 876.2 591.6 876.6 590.1 877.0 588.7 877.4 587.2 877.8 585.8 878.2 584.3 878.6 582.8 879.0 581.4 879.4 579.9 879.8 578.4 880.3 577.0 880.7 575.5 881.1 574.0 881.5 572.6 881.9 571.1 882.3 569.6 882.7 568.2 883.2 566.7 883.6 565.3 884.0 563.8 884.4 562.3 884.9 560.9 885.3 559.4 885.7 558.0 886.1 556.5 886.6 555.1 887.0 553.6 887.4 552.2 887.8 550.7 888.3 549.3 888.7 547.8 889.1 546.4 889.6 544.9 890.0 543.5 890.4 542.0 890.9 540.6 891.3 539.2 891.8 537.7 892.2 536.3 892.6 534.8 893.1 533.4 893.5 532.0 894.0 530.5 894.4 529.1 894.9 527.7 895.3 526.3 895.8 524.8 896.2 523.4 896.7 522.0 897.1 520.6 897.6 519.1 898.1 517.7 898.5 516.3 899.0 514.9 899.4 513.5 899.9 512.0 900.4 510.6 900.8 509.2 901.3 507.8 901.8 506.4 902.3 505.0 902.7 503.6 903.2 502.1 903.7 500.7 904.2 499.3 904.6 497.9 905.1 496.5 905.6 495.1 906.1 493.7 906.6 492.3 907.1 490.9 907.6 489.5 908.1 488.1 908.6 486.7 909.1 485.3 909.6 483.9 910.1 482.5 910.6 481.1 911.1 479.7 911.6 478.3 912.1 476.9 912.6 475.5 913.2 474.1 913.7 472.7 914.2 471.3 914.7 469.9 915.3 468.5 915.8 467.1 916.3 465.7 916.9 464.4 917.4 463.0 917.9 461.6 918.5 460.2 919.0 458.8 919.6 457.4 920.1 456.0 920.7 454.6 921.3 453.2 921.8 451.9 922.4 450.5 922.9 449.1 923.5 447.7 924.1 446.3 924.7 444.9 925.2 443.5 925.8 442.2 926.4 440.8 927.0 439.4 927.6 438.0 928.2 436.6 928.8 435.2 929.4 433.9 930.0 432.5 930.6 431.1 931.2 429.7 931.8 428.3 932.4 427.0 933.0 425.6 933.6 424.2 934.3 422.8 934.9 421.4 935.5 420.1 936.2 418.7 936.8 417.3 937.4 415.9 938.1 414.6 938.7 413.2 939.4 411.8 940.0 410.4 940.7 409.1 941.4 407.7 942.0 406.3 942.7 405.0 943.4 403.6 944.1 402.2 944.7 400.9 945.4 399.5 946.1 398.1 946.8 396.8 947.5 395.4 948.2 394.1 948.9 392.7 949.6 391.4 950.3 390.0 951.1 388.7 951.8 387.3 952.5 386.0 953.2 384.7 954.0 383.3 954.7 382.0 955.4 380.7 956.2 379.3 956.9 378.0 957.7 376.7 958.5 375.4 959.2 374.0 960.0 372.7 960.8 371.4 961.5 370.1 962.3 368.8 963.1 367.5 963.9 366.2 964.7 364.9 965.5 363.6 966.3 362.3 967.1 361.0 967.9 359.8 968.7 358.5 969.6 357.2 970.4 355.9 971.2 354.7 972.1 353.4 972.9 352.1 973.8 350.9 974.6 349.6 975.5 348.4 976.3 347.2 977.2 345.9 978.1 344.7 978.9 343.5 979.8 342.2 980.7 341.0 981.6 339.8 982.5 338.6 983.4 337.4 984.3 336.2 985.2 335.0 986.1 333.8 987.1 332.6 988.0 331.4 988.9 330.3 989.9 329.1 990.8 327.9 991.8 326.8 992.7 325.6 993.7 324.5 994.6 323.3 995.6 322.2 996.6 321.1 997.6 319.9 998.6 318.8 999.6 317.7 1000.6 316.6 1001.6 315.5 1002.6 314.4 1003.6 313.3 1004.6 312.2 1005.6 311.2 1006.7 310.1 1007.7 309.0 1008.8 308.0 1009.8 306.9 1010.9 305.9 1011.9 304.8 1013.0 303.8 1014.1 302.8 1015.2 301.8 1016.3 300.8 1017.3 299.8 1018.4 298.8 1019.6 297.8 1020.7 296.8 1021.8 295.8 1022.9 294.9 1024.0 293.9 1025.2 293.0 1026.3 292.0 1027.5 291.1 1028.6 290.2 1029.8 289.2 1031.0 288.3 1032.1 287.4 1033.3 286.5 1034.5 285.6 1035.7 284.8 1036.9 283.9 1038.1 283.0 1039.3 282.2 1040.6 281.3 1041.8 280.5 1043.0 279.7 1044.3 278.8 1045.5 278.0 1046.8 277.2 1048.0 276.4 1049.3 275.7 1050.6 274.9 1051.9 274.1 1053.2 273.4 1054.5 272.6 1055.8 271.9 1057.1 271.1 1058.4 270.4 1059.7 269.7 1061.0 269.0 1062.4 268.3 1063.7 267.6 1065.1 267.0 1066.4 266.3 1067.8 265.6 1069.2 265.0 1070.6 264.4 1072.0 263.7 1073.4 263.1 1074.8 262.5 1076.2 261.9 1077.6 261.3 1079.0 260.8 1080.4 260.2 1081.9 259.7 1083.3 259.2 1084.8 258.7 1086.2 258.2 1087.7 257.7 1089.1 257.2 1090.6 256.8 1092.0 256.4 1093.5 256.0 1095.0 255.6 1096.5 255.2 1097.9 254.9 1099.4 254.5 1100.9 254.2 1102.4 253.9 1103.9 253.7 1105.3 253.4 1106.8 253.2 1108.3 253.0 1109.8 252.8 1111.3 252.7 1112.8 252.5 1114.3 252.4 1115.7 252.4 1117.2 252.3 1118.7 252.3 1120.2 252.2 1121.7 252.2 1123.2 252.3 1124.7 252.3 1126.2 252.3 1127.7 252.4 1129.2 252.5 1130.7 252.6 1132.2 252.7 1133.6 252.8 1135.1 253.0 1136.6 253.1 1138.1 253.3 1139.6 253.5 1141.1 253.7 1142.6 253.9 1144.1 254.1 1145.6 254.3 1147.1 254.5 1148.6 254.7 1150.1 254.9 1151.6 255.2 1153.1 255.4 1154.6 255.6 1156.1 255.9 1157.6 256.1 1159.1 256.3 1160.6 256.6 1162.1 256.8 1163.6 257.0 1165.1 257.3 1166.6 257.5 1168.1 257.7 1169.6 257.9 1171.2 258.1 1172.7 258.3 1174.2 258.4 1175.7 258.6 1177.2 258.7 1178.7 258.9 1180.2 259.0 1181.7 259.1 1183.1 259.2 1184.6 259.2 1186.1 259.3 1187.6 259.3 1189.1 259.3 1190.6 259.3 1192.1 259.3 1193.6 259.2 1195.1 259.1 1196.6 259.0 1198.0 258.9 1199.5 258.7 1201.0 258.6 1202.5 258.4 1203.9 258.1 1205.4 257.9 1206.9 257.7 1208.3 257.4 1209.8 257.1 1211.2 256.8 1212.7 256.4 1214.1 256.1 1215.5 255.7 1217.0 255.3 1218.4 254.9 1219.8 254.5 1221.2 254.0 1222.7 253.5 1224.1 253.1 1225.5 252.6 1226.9 252.0 1228.2 251.5 1229.6 250.9 1231.0 250.4 1232.4 249.8 1233.7 249.2 1235.1 248.6 1236.4 247.9 1237.8 247.3 1239.1 246.6 1240.4 245.9 1241.8 245.3 1243.1 244.6 1244.4 243.8 1245.7 243.1 1247.0 242.4 1248.3 241.7 1249.6 240.9 1250.9 240.1 1252.2 239.4 1253.5 238.6 1254.8 237.8 1256.1 237.0 1257.4 236.2 1258.6 235.4 1259.9 234.6 1261.2 233.8 1262.5 233.0 1263.7 232.1 1265.0 231.3 1266.3 230.5 1267.5 229.6 1268.8 228.8 1270.1 228.0 1271.3 227.1 1272.6 226.3 1273.9 225.4 1275.1 224.6 1276.4 223.8 1277.7 222.9 1279.0 222.1 1280.2 221.3 1281.5 220.4 1282.8 219.6 1284.0 218.8 1285.3 218.0 1286.6 217.2 1287.9 216.3 1289.2 215.5 1290.5 214.7 1291.8 214.0 1293.1 213.2 1294.4 212.4 1295.7 211.6 1297.0 210.9 1298.3 210.1 1299.6 209.4 1300.9 208.7 1302.2 208.0 1303.6 207.2 1304.9 206.6 1306.2 205.9 1307.6 205.2 1308.9 204.6 1310.3 203.9 1311.7 203.3 1313.0 202.7 1314.4 202.1 1315.8 201.5 1317.2 200.9 1318.6 200.3 1320.0 199.8 1321.3 199.2 1322.8 198.7 1324.2 198.2 1325.6 197.7 1327.0 197.2 1328.4 196.7 1329.8 196.3 1331.3 195.8 1332.7 195.4 1334.1 194.9 1335.6 194.5 1337.0 194.1 1338.5 193.7 1339.9 193.3 1341.4 193.0 1342.8 192.6 1344.3 192.2 1345.7 191.9 1347.2 191.6 1348.7 191.3 1350.2 191.0 1351.6 190.7 1353.1 190.4 1354.6 190.1 1356.1 189.9 1357.5 189.6 1359.0 189.4 1360.5 189.2 1362.0 189.0 1363.5 188.8 1365.0 188.6 1366.5 188.4 1368.0 188.2 1369.5 188.1 1371.0 187.9 1372.5 187.8 1374.0 187.7 1375.5 187.6 1377.0 187.4 1378.5 187.4 1380.0 187.3 1381.5 187.2" stroke="#00f" stroke-width="7" stroke-linecap="round" stroke-linejoin="round" fill="none"/>
<path d="M203.9 321H1381.5" stroke="#000" stroke-width="5.5" stroke-linecap="round" fill="none" stroke-dasharray="15 14.25 3 14.5 3 16.04"/>
</g>
<rect x="201.0" y="30.0" width="1180.5" height="873.0" fill="none" stroke="#000" stroke-width="4" stroke-linejoin="round"/>
<path d="M201.0 903.0V921.0 M332.2 903.0V912.0 M332.2 30.0V39.0 M463.3 903.0V921.0 M463.3 30.0V48.0 M594.5 903.0V912.0 M594.5 30.0V39.0 M725.7 903.0V921.0 M725.7 30.0V48.0 M856.8 903.0V912.0 M856.8 30.0V39.0 M988.0 903.0V921.0 M988.0 30.0V48.0 M1119.2 903.0V912.0 M1119.2 30.0V39.0 M1250.3 903.0V921.0 M1250.3 30.0V48.0 M1381.5 903.0V912.0 M201.0 30.0H182.0 M201.0 102.8H191.0 M1381.5 102.8H1371.5 M201.0 175.5H182.0 M1381.5 175.5H1362.5 M201.0 248.2H191.0 M1381.5 248.2H1371.5 M201.0 321.0H182.0 M1381.5 321.0H1362.5 M201.0 393.8H191.0 M1381.5 393.8H1371.5 M201.0 466.5H182.0 M1381.5 466.5H1362.5 M201.0 539.2H191.0 M1381.5 539.2H1371.5 M201.0 612.0H182.0 M1381.5 612.0H1362.5 M201.0 684.8H191.0 M1381.5 684.8H1371.5 M201.0 757.5H182.0 M1381.5 757.5H1362.5 M201.0 830.2H191.0 M1381.5 830.2H1371.5 M201.0 903.0H182.0" stroke="#000" stroke-width="4" stroke-linecap="round" fill="none"/>
<path d="M933.75 576.5H1036.75" stroke="#000" stroke-width="6.5" stroke-linecap="round" fill="none" stroke-dasharray="31.4 21.4 3.5 22"/>
<path d="M932.6 660.1H1034" stroke="#f00" stroke-width="7" stroke-linecap="round" fill="none" stroke-dasharray="0.8 11.75"/>
<path d="M933.8 743.4H1037.3" stroke="#00f" stroke-width="7" stroke-linecap="round" fill="none"/>
<g font-family="Liberation Serif, serif" font-weight="bold" font-size="67" letter-spacing="2.45"><text transform="translate(1052,592.3) scale(0.93,1)">Ant. 1</text><text transform="translate(1052,675.8) scale(0.93,1)">Ant. 2</text><text transform="translate(1052,758.3) scale(0.93,1)">Ant. 3</text></g>
</svg>
</body></html>
